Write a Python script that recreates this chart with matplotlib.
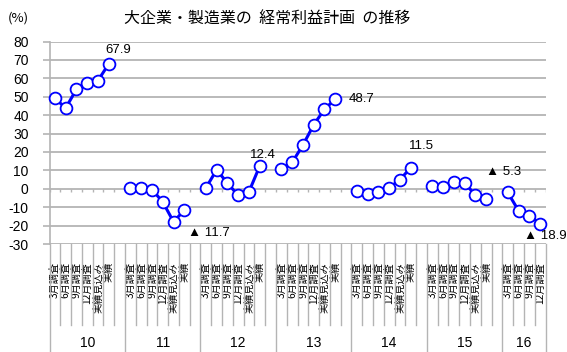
import matplotlib
matplotlib.use("Agg")
import matplotlib.pyplot as plt
from matplotlib.transforms import blended_transform_factory

# Survey years and survey stages within each fiscal year
years = ["10", "11", "12", "13", "14", "15", "16"]
stages = ["3月調査", "6月調査", "9月調査", "12月調査", "実績見込み", "実績"]

# Planned ordinary profit growth (%, y/y) by survey stage
vals_10 = [49.2, 43.8, 54.1, 57.7, 58.8, 67.9]
vals_11 = [0.4, 0.2, -0.4, -7.1, -17.9, -11.7]
vals_12 = [0.4, 10.3, 3.1, -3.6, -1.6, 12.4]
vals_13 = [10.7, 14.3, 23.7, 34.7, 43.2, 48.7]
vals_14 = [-1.4, -2.9, -2.0, 0.5, 4.9, 11.5]
vals_15 = [1.3, 0.7, 3.6, 3.1, -3.4, -5.3]
vals_16 = [-2.0, -11.9, -14.6, -18.9]
series = [vals_10, vals_11, vals_12, vals_13, vals_14, vals_15, vals_16]

# pixel offsets of each year's final-value label
label_offsets = [(9, 14), (25, -23), (3, 11), (26, 0), (11, 22), (17, 27), (5, -12)]

y_ticks = list(range(-30, 81, 10))
slots = len(stages) + 1
n_slots = slots * (len(years) - 1) + len(vals_16)

grey = "#B4B4B4"
blue = "#0000FF"
num_font = ["Liberation Sans", "DejaVu Sans"]
jp_font = ["Noto Sans CJK JP", "DejaVu Sans"]

fig = plt.figure(figsize=(5.67, 3.52), dpi=100)
ax = fig.add_axes([49.5 / 567, 1 - 244 / 352, 496 / 567, 202.5 / 352])

ax.set_xlim(-0.5, n_slots - 0.5)
ax.set_ylim(-30, 80)
ax.set_yticks(y_ticks)
ax.set_yticklabels([str(t) for t in y_ticks], fontfamily=num_font, fontsize=10)
ax.tick_params(axis="y", length=5, width=1.2, color=grey, pad=10)
ax.grid(axis="y", color=grey, linewidth=1.3)
ax.set_axisbelow(True)
for side in ["top", "right", "bottom"]:
    ax.spines[side].set_visible(False)
ax.spines["left"].set_color(grey)
ax.spines["left"].set_linewidth(1.2)

# category ticks along the zero line
bounds = [k - 0.5 for k in range(n_slots + 1)]
ax.vlines(bounds, -1.8, 0, color=grey, linewidth=1.0)

# per-stage labels beneath the plot
positions = []
labels = []
for gi, vals in enumerate(series):
    for si in range(len(vals)):
        positions.append(gi * slots + si)
        labels.append(stages[si])
ax.set_xticks(positions)
ax.set_xticklabels(labels, rotation=90, fontfamily=jp_font, fontsize=7.3,
                   va="top", ha="center")
ax.tick_params(axis="x", length=0, pad=13)

# grid of separators in the category area
trans = blended_transform_factory(ax.transData, ax.transAxes)
group_bounds = [gi * slots - 0.5 for gi in range(len(years))] + [n_slots - 0.5]
for b in bounds:
    if b in group_bounds:
        ax.plot([b, b], [0, -0.56], transform=trans, color=grey, lw=1.0, clip_on=False)
    else:
        ax.plot([b, b], [0, -0.40], transform=trans, color=grey, lw=1.0, clip_on=False)

# year labels
for gi, yr in enumerate(years):
    centre = (group_bounds[gi] + group_bounds[gi + 1]) / 2
    ax.text(centre, -0.49, yr, transform=trans, ha="center", va="center",
            fontfamily=num_font, fontsize=10)

# lines with open circle markers, one segment per year
for gi, vals in enumerate(series):
    xs = [gi * slots + si for si in range(len(vals))]
    ax.plot(xs, vals, color=blue, linewidth=2.2, marker="o", markersize=8.5,
            markerfacecolor="white", markeredgecolor=blue, markeredgewidth=1.3,
            clip_on=False, zorder=3)
    last = vals[-1]
    text = f"{last:.1f}" if last >= 0 else f"▲ {abs(last):.1f}"
    ax.annotate(text, (xs[-1], last), xytext=label_offsets[gi],
                textcoords="offset pixels", ha="center", va="center",
                fontfamily=num_font, fontsize=9.5)

fig.text(8 / 567, 1 - 18 / 352, "(%)", fontfamily=jp_font, fontsize=9.5,
         va="center", ha="left")
fig.text(267 / 567, 1 - 19 / 352, "大企業・製造業の  経常利益計画  の推移",
         fontfamily=jp_font, fontsize=11.5, ha="center", va="center")

fig.savefig("out.png", dpi=100)
